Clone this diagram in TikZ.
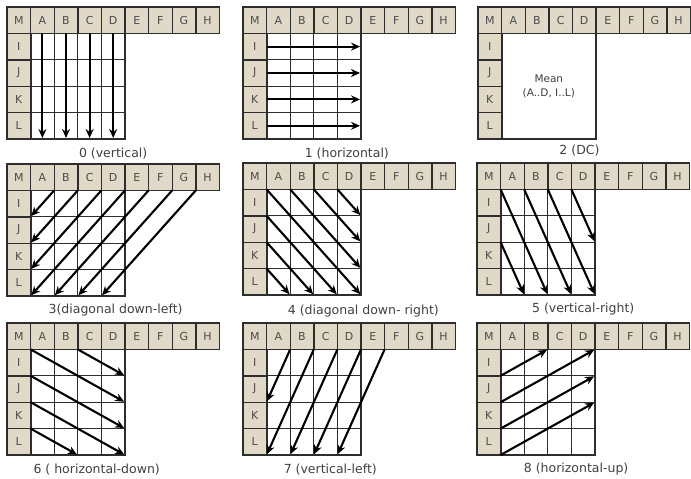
\documentclass[tikz,border=0pt]{standalone}
\usepackage{fontspec}
\setmainfont{DejaVu Sans}
\usepackage{xcolor}
\usepackage{tikz}
\usetikzlibrary{arrows.meta}

\definecolor{nbbeige}{RGB}{224,217,199}
\definecolor{framegray}{RGB}{45,45,45}

% one 4x4 block with its neighbour samples (#1 = name prefix, #2 = 1 draws inner lines)
\newcommand{\modeframe}[2]{%
  % top row M..H
  \foreach \c [count=\i from 0] in {M,A,B,C,D,E,F,G,H} {
    \draw[nbcell] (\i,0) rectangle ++(1,1);
    \node[nbtext] (#1-\c) at (\i+0.5,0.5) {\c};
  }
  % left column I..L
  \foreach \c [count=\j] in {I,J,K,L} {
    \draw[nbcell] (0,\j) rectangle ++(1,1);
    \node[nbtext] (#1-\c) at (0.5,\j+0.5) {\c};
  }
  \ifnum#2=1
    \foreach \k in {2,3,4} {
      \draw[cellline] (\k,1) -- (\k,5);
      \draw[cellline] (1,\k) -- (5,\k);
    }
  \fi
  \draw[blockline] (1,1) rectangle (5,5);
}

\begin{document}
\begin{tikzpicture}[>=Stealth, x=23.6pt, y=-26.4pt,
    nbcell/.style={fill=nbbeige, draw=framegray, line width=1.4pt},
    nbtext/.style={font=\fontsize{11}{13}\selectfont, text=black!70},
    cellline/.style={draw=framegray, line width=1.2pt},
    blockline/.style={draw=framegray, line width=1.8pt},
    predarrow/.style={-{Stealth[length=9pt, width=8pt]}, line width=2.1pt, shorten >=1pt},
    modelabel/.style={font=\fontsize{12.5}{15}\selectfont, text=black!75}]
  \useasboundingbox (0pt,0pt) rectangle (691pt,-479pt);

  % Mode 0
  \begin{scope}[shift={(7pt,-7pt)}]
    \modeframe{m0}{1}
    \foreach \x in {1.5,2.5,3.5,4.5}
      \draw[predarrow] (\x,1) -- (\x,5);
    \node[modelabel] (lab0) at (4.5,5.55) {0 (vertical)};
  \end{scope}

  % Mode 1
  \begin{scope}[shift={(243pt,-7pt)}]
    \modeframe{m1}{1}
    \foreach \y in {1.5,2.5,3.5,4.5}
      \draw[predarrow] (1,\y) -- (5,\y);
    \node[modelabel] (lab1) at (4.4,5.55) {1 (horizontal)};
  \end{scope}

  % Mode 2
  \begin{scope}[shift={(478pt,-7pt)}]
    \modeframe{m2}{0}
    \node[align=center, font=\fontsize{10.5}{14}\selectfont, text=black!75] (mean) at (3,3)
      {Mean\\(A..D, I..L)};
    \node[modelabel] (lab2) at (4.3,5.45) {2 (DC)};
  \end{scope}

  % Mode 3
  \begin{scope}[shift={(7pt,-164pt)}]
    \modeframe{m3}{1}
    \foreach \k in {1,...,4}
      \draw[predarrow] (\k+1,1) -- (1,\k+1);
    \foreach \k in {5,6,7}
      \draw[predarrow] (\k+1,1) -- (\k-3,5);
    \node[modelabel] (lab3) at (4.6,5.55) {3(diagonal down-left)};
  \end{scope}

  % Mode 4
  \begin{scope}[shift={(243pt,-163pt)}]
    \modeframe{m4}{1}
    \foreach \k in {1,...,4}
      \draw[predarrow] (\k,1) -- (5,6-\k);
    \foreach \k in {2,3,4}
      \draw[predarrow] (1,\k) -- (6-\k,5);
    \node[modelabel] (lab4) at (5.1,5.6) {4 (diagonal down- right)};
  \end{scope}

  % Mode 5
  \begin{scope}[shift={(477pt,-163pt)}]
    \modeframe{m5}{1}
    \foreach \k in {1,2,3}
      \draw[predarrow] (\k,1) -- (\k+2,5);
    \draw[predarrow] (4,1) -- (5,3);
    \draw[predarrow] (1,3) -- (2,5);
    \node[modelabel] (lab5) at (4.5,5.55) {5 (vertical-right)};
  \end{scope}

  % Mode 6
  \begin{scope}[shift={(7pt,-323pt)}]
    \modeframe{m6}{1}
    \foreach \k in {1,2,3}
      \draw[predarrow] (1,\k) -- (5,\k+2);
    \draw[predarrow] (3,1) -- (5,2);
    \draw[predarrow] (1,4) -- (3,5);
    \node[modelabel] (lab6) at (3.8,5.55) {6 ( horizontal-down)};
  \end{scope}

  % Mode 7
  \begin{scope}[shift={(243pt,-323pt)}]
    \modeframe{m7}{1}
    \draw[predarrow] (2,1) -- (1,3);
    \foreach \k in {3,...,6}
      \draw[predarrow] (\k,1) -- (\k-2,5);
    \node[modelabel] (lab7) at (3.7,5.55) {7 (vertical-left)};
  \end{scope}

  % Mode 8
  \begin{scope}[shift={(477pt,-323pt)}]
    \modeframe{m8}{1}
    \draw[predarrow] (1,2) -- (3,1);
    \foreach \k in {3,4,5}
      \draw[predarrow] (1,\k) -- (5,\k-2);
    \node[modelabel] (lab8) at (4.2,5.55) {8 (horizontal-up)};
  \end{scope}
\end{tikzpicture}
\end{document}
